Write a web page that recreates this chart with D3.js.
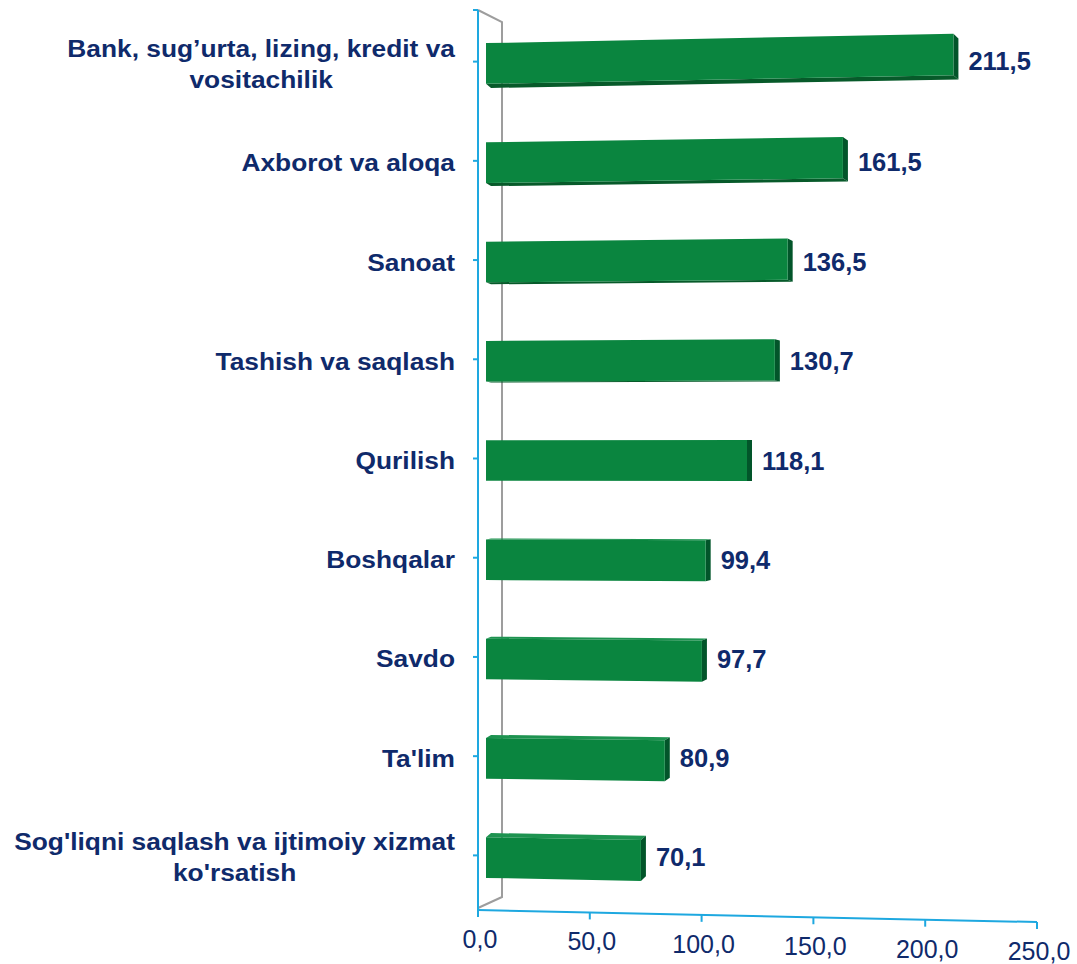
<!DOCTYPE html>
<html>
<head>
<meta charset="utf-8">
<script src="https://cdn.jsdelivr.net/npm/d3@7"></script>
<style>
  html, body { margin: 0; padding: 0; background: #ffffff; }
  svg { display: block; }
</style>
</head>
<body>
<svg id="chart" width="1077" height="964"></svg>
<script>
// ---- data ----
const categories = [
  "Bank, sug’urta, lizing, kredit va\nvositachilik",
  "Axborot va aloqa",
  "Sanoat",
  "Tashish va saqlash",
  "Qurilish",
  "Boshqalar",
  "Savdo",
  "Ta'lim",
  "Sog'liqni saqlash va ijtimoiy xizmat\nko'rsatish"
];
const values = [211.5, 161.5, 136.5, 130.7, 118.1, 99.4, 97.7, 80.9, 70.1];
const xTicks = [0, 50, 100, 150, 200, 250];

// ---- setup ----
const svg = d3.select("#chart");
const navy = "#0f2a6b";
const axisBlue = "#1ea8e0";
const fmt = v => d3.format(".1f")(v).replace(".", ",");

const cy = 460;        // perspective centre line
const kPersp = 4.8e-5; // perspective spread
const depthX = 5, depthY = 0.011;
function P(x, y, z = 0) {
  const s = (1 + kPersp * (x - 478)) * (1 - depthY * z);
  return [x + depthX * z, cy + (y - cy) * s];
}
const poly = pts => "M" + pts.map(p => p.join(",")).join("L") + "Z";

const y = d3.scaleBand().domain(categories).range([14, 907]).paddingInner(0.59).paddingOuter(0.295);
const xAxisScale = d3.scaleLinear().domain([0, 250]).range([478, 1037]);
const xBar = d3.scaleLinear().domain([0, 250]).range([486, 1038.5]);

// ---- back wall / frame ----
svg.append("path")
  .attr("d", "M478,10 L502,22 L502,897 L478,908")
  .attr("fill", "none").attr("stroke", "#9d9d9d").attr("stroke-width", 2);

// left axis
svg.append("line").attr("x1", 478).attr("x2", 478).attr("y1", 10).attr("y2", 910)
  .attr("stroke", axisBlue).attr("stroke-width", 2);
svg.append("line").attr("x1", 473).attr("x2", 478).attr("y1", 10).attr("y2", 10)
  .attr("stroke", axisBlue).attr("stroke-width", 2);
svg.selectAll(".ltick").data(categories).enter().append("line")
  .attr("x1", 473).attr("x2", 478)
  .attr("y1", d => y(d) + y.bandwidth() / 2 - 2)
  .attr("y2", d => y(d) + y.bandwidth() / 2 - 2)
  .attr("stroke", axisBlue).attr("stroke-width", 2);

// bottom axis
const a0 = P(xAxisScale(0), 910), a1 = P(xAxisScale(250), 910);
svg.append("line").attr("x1", a0[0]).attr("y1", a0[1]).attr("x2", a1[0]).attr("y2", a1[1])
  .attr("stroke", axisBlue).attr("stroke-width", 2);
xTicks.forEach(t => {
  const p = P(xAxisScale(t), 910);
  svg.append("line").attr("x1", p[0]).attr("x2", p[0]).attr("y1", p[1]).attr("y2", p[1] + 7)
    .attr("stroke", axisBlue).attr("stroke-width", 2);
  svg.append("text").attr("x", p[0] + 2).attr("y", p[1] + 38)
    .attr("text-anchor", "middle")
    .attr("font-family", "Liberation Sans, Arial, sans-serif")
    .attr("font-size", 25).attr("fill", navy)
    .text(fmt(t));
});

// ---- bars ----
const bars = svg.append("g");
categories.forEach((c, i) => {
  const v = values[i];
  const y0 = y(c), y1 = y(c) + y.bandwidth();
  const x0 = xBar(0), x1 = xBar(v);
  const g = bars.append("g");
  if (y1 < cy) {
    g.append("path").attr("d", poly([P(x0, y1), P(x1, y1), P(x1, y1, 1), P(x0, y1, 1)]))
      .attr("fill", "#075a2a");
  } else if (y0 > cy) {
    g.append("path").attr("d", poly([P(x0, y0), P(x1, y0), P(x1, y0, 1), P(x0, y0, 1)]))
      .attr("fill", "#1d9350");
  }
  g.append("path").attr("d", poly([P(x1, y0), P(x1, y0, 1), P(x1, y1, 1), P(x1, y1)]))
    .attr("fill", "#02552a");
  g.append("path").attr("d", poly([P(x0, y0), P(x1, y0), P(x1, y1), P(x0, y1)]))
    .attr("fill", "#0a853f");

  const ymid = (y0 + y1) / 2;
  const pe = P(x1, ymid, 1);
  const ly = (pe[1] + ymid) / 2;
  svg.append("text").attr("x", pe[0] + 10).attr("y", ly + 9)
    .attr("font-family", "Liberation Sans, Arial, sans-serif")
    .attr("font-weight", "bold").attr("font-size", 25.5).attr("fill", navy)
    .text(fmt(v));
});

// ---- category labels ----
categories.forEach(c => {
  const lines = c.split("\n");
  const yc = y(c) + y.bandwidth() / 2;
  const g = svg.append("g").attr("transform", `translate(455,${yc}) scale(1.13,1)`);
  const lh = 31;
  const texts = lines.map((l, j) => g.append("text")
    .attr("y", (j - (lines.length - 1) / 2) * lh + 8.5)
    .attr("text-anchor", "middle")
    .attr("font-family", "Liberation Sans, Arial, sans-serif")
    .attr("font-weight", "bold").attr("font-size", 23.3).attr("fill", navy)
    .text(l));
  const w = d3.max(texts, t => t.node().getComputedTextLength());
  texts.forEach(t => t.attr("x", -w / 2));
});
</script>
</body>
</html>
